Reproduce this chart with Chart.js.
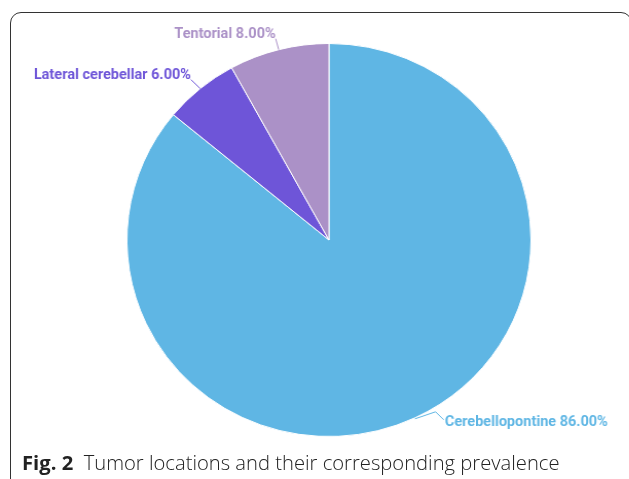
<!DOCTYPE html>
<html lang="en">
<head>
    <meta charset="UTF-8">
    <title>Tumor locations</title>
</head>
<body>

<div id="frame"></div>
<div id="chartbox"><canvas id="myChart" width="629" height="479"></canvas></div>
<div id="caption"><b>Fig. 2</b>&nbsp; Tumor locations and their corresponding prevalence</div>

<script src="https://cdn.jsdelivr.net/npm/chart.js"></script>

<script>
    const locations = ['Cerebellopontine', 'Lateral cerebellar', 'Tentorial'];
    const prevalence = [86, 6, 8];
    const colors = ['#5fb6e4', '#6e55d8', '#ab91c7'];

    // leader line points and text anchor, relative to the middle of each slice's outer edge
    const leaders = {
        'Cerebellopontine': {line: [[0, 1], [20, -6], [28, 2]], text: [29, 5], align: 'left'},
        'Lateral cerebellar': {line: [[0, 0], [-9, -9]], text: [-9, -13], align: 'right'},
        'Tentorial': {line: [[0, 0], [-3, -11]], text: [-3, -15], align: 'right'},
    };

    const labelPlugin = {
        id: 'sliceLabels',
        afterDraw(chart) {
            const ctx = chart.ctx;
            const meta = chart.getDatasetMeta(0);
            const total = prevalence.reduce((a, b) => a + b, 0);
            ctx.save();
            ctx.font = 'bold 14.1px Roboto';
            ctx.textBaseline = 'middle';
            meta.data.forEach((arc, i) => {
                const mid = (arc.startAngle + arc.endAngle) / 2;
                const px = arc.x + Math.cos(mid) * arc.outerRadius;
                const py = arc.y + Math.sin(mid) * arc.outerRadius;
                const cfg = leaders[locations[i]];
                ctx.strokeStyle = colors[i];
                ctx.lineWidth = 1;
                ctx.beginPath();
                cfg.line.forEach(([dx, dy], k) => {
                    if (k === 0) ctx.moveTo(px + dx, py + dy);
                    else ctx.lineTo(px + dx, py + dy);
                });
                ctx.stroke();
                ctx.fillStyle = colors[i];
                ctx.textAlign = cfg.align;
                const pct = (prevalence[i] / total * 100).toFixed(2);
                ctx.fillText(`${locations[i]} ${pct}%`, px + cfg.text[0], py + cfg.text[1]);
            });
            ctx.restore();
        }
    };

    const ctx = document.getElementById('myChart');
    const myChart = new Chart(ctx, {
        type: 'pie',
        data: {
            labels: locations,
            datasets: [{
                data: prevalence,
                backgroundColor: colors,
                borderColor: '#ffffff',
                borderWidth: 1,
            }],
        },
        options: {
            responsive: false,
            animation: false,
            layout: {
                padding: {left: 123, right: 112, top: 43, bottom: 42}
            },
            plugins: {
                legend: {display: false},
                tooltip: {enabled: false},
            },
        },
        plugins: [labelPlugin],
    });
</script>

<style>
    body {
        margin: 0;
        width: 629px;
        height: 479px;
        overflow: hidden;
        background: #ffffff;
        position: relative;
    }

    #frame {
        position: absolute;
        left: 10px;
        top: 12px;
        width: 620px;
        height: 480px;
        border: 1px solid #333;
        border-radius: 11px;
    }

    /* the reference figure is a touch wider than tall */
    #chartbox {
        position: absolute;
        left: 0;
        top: 0;
        transform: scaleX(1.028);
        transform-origin: 0 0;
    }

    #caption {
        position: absolute;
        left: 22px;
        top: 448px;
        font-family: "Open Sans", sans-serif;
        font-size: 20.2px;
        font-weight: 300;
        color: #222;
        white-space: nowrap;
    }

    #caption b {
        font-weight: 700;
    }
</style>
</body>
</html>
